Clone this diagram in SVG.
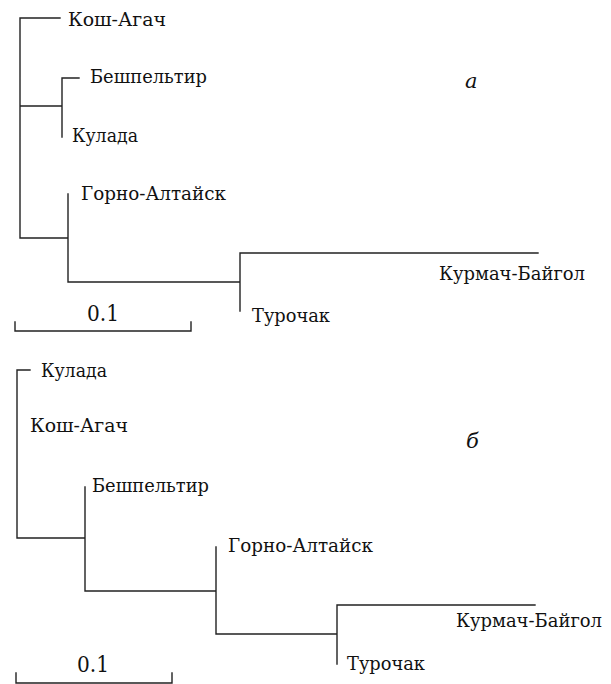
<svg xmlns="http://www.w3.org/2000/svg" width="611" height="684" viewBox="0 0 611 684">
<style>
.e{stroke:#222;stroke-width:1.4;fill:none;stroke-linecap:square}
.t{font-family:'DejaVu Serif',serif;font-size:19px;fill:#111}
.n{font-family:'DejaVu Serif',serif;font-size:22px;fill:#111}
.l{font-family:'DejaVu Serif',serif;font-size:21px;font-style:italic;fill:#111}
</style>
<rect width="611" height="684" fill="#fff"/>
<g id="connectors">
<path class="e" d="M20 18V238M20 18H60M20 106H62M62 78V137M62 78H79M20 238H68M68 194V282M68 282H240M240 253V311M240 253H538"/>
<path class="e" d="M15 322V331H191V322"/>
<path class="e" d="M17 370V538M17 370H30M17 538H85M85 487V591M85 591H216M216 547V634M216 634H337M337 605V664M337 605H535"/>
<path class="e" d="M16 673V683H172V673"/>
</g>
<g id="tree-a">
<g id="a-kosh"><text class="t" x="68" y="26" textLength="98" lengthAdjust="spacingAndGlyphs">Кош-Агач</text></g>
<g id="a-besh"><text class="t" x="90" y="83" textLength="117" lengthAdjust="spacingAndGlyphs">Бешпельтир</text></g>
<g id="a-kulada"><text class="t" x="72" y="142" textLength="66" lengthAdjust="spacingAndGlyphs">Кулада</text></g>
<g id="a-gorno"><text class="t" x="81" y="200" textLength="145" lengthAdjust="spacingAndGlyphs">Горно-Алтайск</text></g>
<g id="a-kurmach"><text class="t" x="439" y="280" textLength="146" lengthAdjust="spacingAndGlyphs">Курмач-Байгол</text></g>
<g id="a-turochak"><text class="t" x="252" y="322" textLength="78" lengthAdjust="spacingAndGlyphs">Турочак</text></g>
<g id="a-scale"><text class="n" x="87" y="321" textLength="32" lengthAdjust="spacingAndGlyphs">0.1</text></g>
<g id="a-label"><text class="l" x="465" y="88">а</text></g>
</g>
<g id="tree-b">
<g id="b-kulada"><text class="t" x="41" y="377" textLength="66" lengthAdjust="spacingAndGlyphs">Кулада</text></g>
<g id="b-kosh"><text class="t" x="30" y="432" textLength="98" lengthAdjust="spacingAndGlyphs">Кош-Агач</text></g>
<g id="b-besh"><text class="t" x="92" y="492" textLength="117" lengthAdjust="spacingAndGlyphs">Бешпельтир</text></g>
<g id="b-gorno"><text class="t" x="228" y="552" textLength="145" lengthAdjust="spacingAndGlyphs">Горно-Алтайск</text></g>
<g id="b-kurmach"><text class="t" x="456" y="627" textLength="146" lengthAdjust="spacingAndGlyphs">Курмач-Байгол</text></g>
<g id="b-turochak"><text class="t" x="347" y="670" textLength="78" lengthAdjust="spacingAndGlyphs">Турочак</text></g>
<g id="b-scale"><text class="n" x="77" y="672" textLength="32" lengthAdjust="spacingAndGlyphs">0.1</text></g>
<g id="b-label"><text class="l" x="466" y="448">б</text></g>
</g>
</svg>
